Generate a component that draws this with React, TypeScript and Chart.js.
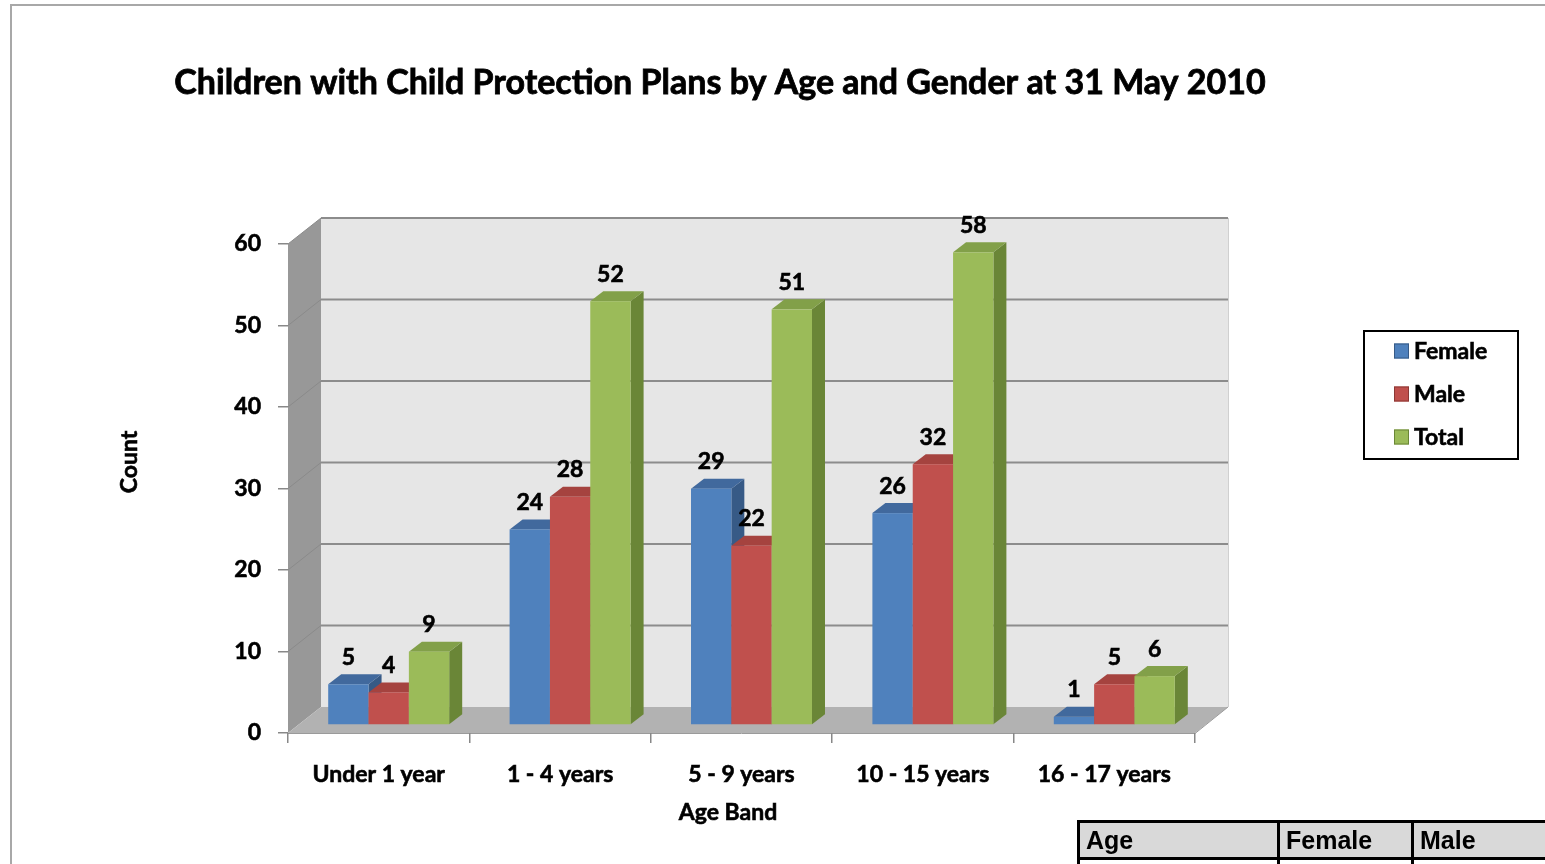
import React, { useEffect, useRef } from "react";
import { Chart, registerables } from "chart.js";

Chart.register(...registerables);

const TITLE = "Children with Child Protection Plans by Age and Gender at 31 May 2010";
const X_TITLE = "Age Band";
const Y_TITLE = "Count";
const categories = ["Under 1 year", "1 - 4 years", "5 - 9 years", "10 - 15 years", "16 - 17 years"];
const seriesNames = ["Female", "Male", "Total"];
const female = [5, 24, 29, 26, 1];
const male = [4, 28, 22, 32, 5];
const total = [9, 52, 51, 58, 6];
const yMin = 0;
const yMax = 60;
const yStep = 10;
const frontColors = ["#4f81bd", "#c0504d", "#9bbb59"];
const topColors = ["#41699d", "#a5433f", "#82a049"];
const sideColors = ["#375a86", "#8b3835", "#6a8637"];

const tableHeader = ["Age", "Female", "Male"];
const tableRow = ["Under 1", "5", "4"];

const FONT = "Lato, 'Open Sans', sans-serif";
const W = "bold";
const FS = 23;

// 3D geometry (pixels)
const WALL_DX = 33;
const WALL_DY = 26;
const BAR_OX = 10;
const BAR_OY = -8;
const BAR_DX = 13;
const BAR_DY = 10;

function boldText(ctx: CanvasRenderingContext2D, s: string, x: number, y: number) {
  ctx.fillText(s, x, y);
  ctx.strokeText(s, x, y);
}

const threeD = {
  id: "threeD",
  beforeDraw(chart: any) {
    const ctx = chart.ctx;
    const ys = chart.scales.y;
    const L = chart.chartArea.left;
    const R = chart.chartArea.right;
    const y0 = ys.getPixelForValue(yMin);
    const yT = ys.getPixelForValue(yMax);
    ctx.save();
    ctx.fillStyle = "#e6e6e6";
    ctx.fillRect(L + WALL_DX, yT - WALL_DY, R - L, y0 - yT);
    ctx.fillStyle = "#989898";
    ctx.beginPath();
    ctx.moveTo(L, yT);
    ctx.lineTo(L + WALL_DX, yT - WALL_DY);
    ctx.lineTo(L + WALL_DX, y0 - WALL_DY);
    ctx.lineTo(L, y0);
    ctx.closePath();
    ctx.fill();
    ctx.fillStyle = "#b2b2b2";
    ctx.beginPath();
    ctx.moveTo(L, y0);
    ctx.lineTo(L + WALL_DX, y0 - WALL_DY);
    ctx.lineTo(R + WALL_DX, y0 - WALL_DY);
    ctx.lineTo(R, y0);
    ctx.closePath();
    ctx.fill();
    ctx.strokeStyle = "#9a9a9a";
    ctx.lineWidth = 1;
    ctx.beginPath();
    ctx.moveTo(L, y0 + 0.5);
    ctx.lineTo(R, y0 + 0.5);
    ctx.lineTo(R + WALL_DX, y0 - WALL_DY);
    ctx.stroke();
    ctx.strokeStyle = "#d0d0d0";
    ctx.beginPath();
    ctx.moveTo(R + WALL_DX + 0.5, yT - WALL_DY);
    ctx.lineTo(R + WALL_DX + 0.5, y0 - WALL_DY);
    ctx.stroke();
    for (let v = yMin + yStep; v <= yMax; v += yStep) {
      const y = ys.getPixelForValue(v);
      ctx.strokeStyle = "#8c8c8c";
      ctx.lineWidth = 2;
      ctx.beginPath();
      ctx.moveTo(L + WALL_DX, y - WALL_DY);
      ctx.lineTo(R + WALL_DX, y - WALL_DY);
      ctx.stroke();
      ctx.strokeStyle = "#8a8a8a";
      ctx.lineWidth = 1;
      ctx.beginPath();
      ctx.moveTo(L, y);
      ctx.lineTo(L + WALL_DX, y - WALL_DY);
      ctx.stroke();
    }
    ctx.restore();
  },
  beforeDatasetDraw() {
    return false;
  },
  afterDatasetsDraw(chart: any) {
    const ctx = chart.ctx;
    ctx.save();
    const n = chart.data.datasets.length;
    for (let i = 0; i < n; i++) {
      const meta = chart.getDatasetMeta(i);
      meta.data.forEach((el: any) => {
        const p = el.getProps(["x", "y", "base", "width"], true);
        const l = p.x - p.width / 2 + BAR_OX;
        const r = p.x + p.width / 2 + BAR_OX;
        const t = p.y + BAR_OY;
        const b = p.base + BAR_OY;
        ctx.fillStyle = sideColors[i];
        ctx.beginPath();
        ctx.moveTo(r, t);
        ctx.lineTo(r + BAR_DX, t - BAR_DY);
        ctx.lineTo(r + BAR_DX, b - BAR_DY);
        ctx.lineTo(r, b);
        ctx.closePath();
        ctx.fill();
        ctx.fillStyle = topColors[i];
        ctx.beginPath();
        ctx.moveTo(l, t);
        ctx.lineTo(l + BAR_DX, t - BAR_DY);
        ctx.lineTo(r + BAR_DX, t - BAR_DY);
        ctx.lineTo(r, t);
        ctx.closePath();
        ctx.fill();
        ctx.fillStyle = frontColors[i];
        ctx.fillRect(l, t, r - l, b - t);
      });
    }
    ctx.fillStyle = "#000";
    ctx.strokeStyle = "#000";
    ctx.lineWidth = 0.6;
    ctx.font = `${W} ${FS}px ${FONT}`;
    ctx.textAlign = "center";
    ctx.textBaseline = "middle";
    for (let i = 0; i < n; i++) {
      const meta = chart.getDatasetMeta(i);
      const vals = chart.data.datasets[i].data;
      meta.data.forEach((el: any, j: number) => {
        const p = el.getProps(["x", "y"], true);
        boldText(ctx, String(vals[j]), p.x + BAR_OX, p.y + BAR_OY - 27);
      });
    }
    ctx.restore();
  },
  afterDraw(chart: any) {
    const ctx = chart.ctx;
    ctx.save();
    ctx.fillStyle = "#000";
    ctx.strokeStyle = "#000";
    ctx.lineWidth = 0.8;
    ctx.textBaseline = "middle";
    ctx.textAlign = "center";
    ctx.font = `${W} 34px ${FONT}`;
    boldText(ctx, TITLE, 720, 83);
    ctx.lineWidth = 0.6;
    ctx.font = `${W} ${FS}px ${FONT}`;
    boldText(ctx, X_TITLE, 728, 813);
    ctx.save();
    ctx.translate(130, 462);
    ctx.rotate(-Math.PI / 2);
    boldText(ctx, Y_TITLE, 0, 0);
    ctx.restore();
    ctx.lineWidth = 2;
    ctx.strokeRect(1364, 331, 154, 128);
    ctx.textAlign = "left";
    chart.data.datasets.forEach((ds: any, i: number) => {
      const y = 351 + i * 43;
      ctx.fillStyle = frontColors[i];
      ctx.fillRect(1394, y - 7.5, 15, 15);
      ctx.strokeStyle = sideColors[i];
      ctx.lineWidth = 1;
      ctx.strokeRect(1394.5, y - 7, 14, 14);
      ctx.fillStyle = "#000";
      ctx.strokeStyle = "#000";
      ctx.lineWidth = 0.6;
      boldText(ctx, ds.label, 1414, y + 1);
    });
    ctx.restore();
  },
};

export default function App() {
  const ref = useRef<HTMLCanvasElement>(null);
  useEffect(() => {
    if (!ref.current) return;
    const tickFont = { family: FONT, weight: W as any, size: FS };
    const chart = new Chart(ref.current, {
      type: "bar",
      data: {
        labels: categories,
        datasets: [
          { label: seriesNames[0], data: female, backgroundColor: frontColors[0] },
          { label: seriesNames[1], data: male, backgroundColor: frontColors[1] },
          { label: seriesNames[2], data: total, backgroundColor: frontColors[2] },
        ],
      },
      options: {
        responsive: false,
        animation: false,
        events: [],
        datasets: { bar: { categoryPercentage: 0.667, barPercentage: 1.0 } },
        layout: { padding: { left: 0, right: 350, top: 244, bottom: 0 } },
        plugins: {
          legend: { display: false },
          title: { display: false },
          tooltip: { enabled: false },
        },
        scales: {
          x: {
            grid: { drawOnChartArea: false, drawTicks: true, tickLength: 10, color: "#888", lineWidth: 1.5, offset: true },
            border: { display: false },
            ticks: { font: tickFont, color: "#000", textStrokeColor: "#000", textStrokeWidth: 0.6, padding: 18, maxRotation: 0, autoSkip: false },
            afterFit: (s: any) => { s.height = 131; },
          },
          y: {
            min: yMin,
            max: yMax,
            grid: { drawOnChartArea: false, drawTicks: true, tickLength: 10, color: "#888", lineWidth: 1.5 },
            border: { display: false },
            ticks: { stepSize: yStep, font: tickFont, color: "#000", textStrokeColor: "#000", textStrokeWidth: 0.6, padding: 17 },
            afterFit: (s: any) => { s.width = 288; },
          },
        },
      } as any,
      plugins: [threeD],
    });
    return () => chart.destroy();
  }, []);

  const cell = (w: number, align: "left" | "right", bg: string): React.CSSProperties => ({
    width: w,
    boxSizing: "border-box",
    padding: "0 6px",
    textAlign: align,
    background: bg,
    borderRight: "3px solid #000",
  });

  return (
    <div style={{ position: "fixed", left: 0, top: 0, width: 1545, height: 864, overflow: "hidden", background: "#fff" }}>
      <div style={{ position: "absolute", left: 10, top: 4, width: 1600, height: 900, borderLeft: "2px solid #a8a8a8", borderTop: "2px solid #a8a8a8" }} />
      <canvas ref={ref} width={1545} height={864} style={{ position: "absolute", left: 0, top: 0 }} />
      <div style={{ position: "absolute", left: 1077, top: 820, width: 520, fontFamily: "'Liberation Sans', Arial, sans-serif", fontWeight: "bold", fontSize: 25, color: "#000", borderLeft: "3px solid #000", borderTop: "3px solid #000" }}>
        <div style={{ display: "flex", height: 34, lineHeight: "34px", borderBottom: "3px solid #000" }}>
          <div style={cell(200, "left", "#d9d9d9")}>{tableHeader[0]}</div>
          <div style={cell(134, "left", "#d9d9d9")}>{tableHeader[1]}</div>
          <div style={cell(186, "left", "#d9d9d9")}>{tableHeader[2]}</div>
        </div>
        <div style={{ display: "flex", height: 34, lineHeight: "34px" }}>
          <div style={{ ...cell(200, "left", "#fff"), paddingLeft: 14 }}>{tableRow[0]}</div>
          <div style={cell(134, "right", "#fff")}>{tableRow[1]}</div>
          <div style={{ ...cell(186, "left", "#fff"), paddingLeft: 124 }}>{tableRow[2]}</div>
        </div>
      </div>
    </div>
  );
}
